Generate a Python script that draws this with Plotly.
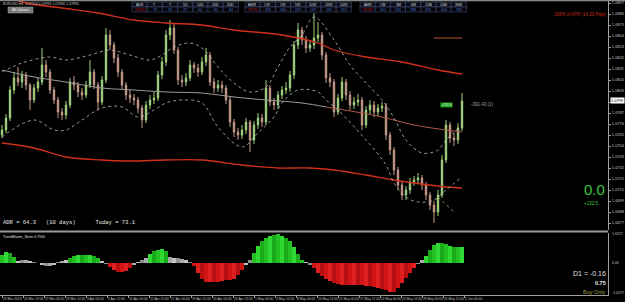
import plotly.graph_objects as go

# ---------------- DATA ----------------
IDX = list(range(116))

OPEN = [1.0765,1.0770,1.0782,1.0810,1.0822,1.0818,1.0825,1.0815,1.0800,1.0812,
        1.0818,1.0835,1.0828,1.0810,1.0800,1.0788,1.0785,1.0795,1.0818,1.0815,
        1.0808,1.0805,1.0815,1.0828,1.0815,1.0798,1.0820,1.0865,1.0855,1.0842,
        1.0828,1.0815,1.0805,1.0802,1.0800,1.0792,1.0780,1.0795,1.0800,1.0802,
        1.0825,1.0838,1.0865,1.0872,1.0850,1.0820,1.0818,1.0822,1.0835,1.0832,
        1.0828,1.0838,1.0845,1.0818,1.0812,1.0815,1.0812,1.0800,1.0778,1.0768,
        1.0765,1.0770,1.0778,1.0760,1.0775,1.0782,1.0778,1.0812,1.0798,1.0795,
        1.0805,1.0810,1.0812,1.0825,1.0855,1.0870,1.0860,1.0852,1.0855,1.0862,
        1.0865,1.0845,1.0822,1.0818,1.0788,1.0802,1.0818,1.0805,1.0795,1.0798,
        1.0800,1.0775,1.0790,1.0795,1.0788,1.0792,1.0794,1.0765,1.0750,1.0730,
        1.0715,1.0705,1.0710,1.0718,1.0720,1.0722,1.0715,1.0705,1.0695,1.0688,
        1.0705,1.0740,1.0775,1.0762,1.0760,1.0772]
CLOSE = [1.0770,1.0782,1.0810,1.0822,1.0818,1.0825,1.0815,1.0800,1.0812,1.0818,
         1.0835,1.0828,1.0810,1.0800,1.0788,1.0785,1.0795,1.0818,1.0815,1.0808,
         1.0805,1.0815,1.0828,1.0815,1.0798,1.0820,1.0865,1.0855,1.0842,1.0828,
         1.0815,1.0805,1.0802,1.0800,1.0792,1.0780,1.0795,1.0800,1.0802,1.0825,
         1.0838,1.0865,1.0872,1.0850,1.0820,1.0818,1.0822,1.0835,1.0832,1.0828,
         1.0838,1.0845,1.0818,1.0812,1.0815,1.0812,1.0800,1.0778,1.0768,1.0765,
         1.0770,1.0778,1.0760,1.0775,1.0782,1.0778,1.0812,1.0798,1.0795,1.0805,
         1.0810,1.0812,1.0825,1.0855,1.0870,1.0860,1.0852,1.0855,1.0862,1.0865,
         1.0845,1.0822,1.0818,1.0788,1.0802,1.0818,1.0805,1.0795,1.0798,1.0800,
         1.0775,1.0790,1.0795,1.0788,1.0792,1.0794,1.0765,1.0750,1.0730,1.0715,
         1.0705,1.0710,1.0718,1.0720,1.0722,1.0715,1.0705,1.0695,1.0688,1.0705,
         1.0740,1.0775,1.0762,1.0760,1.0772,1.0799]
HIGH = [1.0775,1.0786,1.0814,1.0828,1.0833,1.0829,1.0828,1.0817,1.0816,1.0822,
        1.0852,1.0840,1.0831,1.0813,1.0803,1.0792,1.0799,1.0822,1.0824,1.0818,
        1.0812,1.0819,1.0840,1.0831,1.0818,1.0824,1.0872,1.0870,1.0858,1.0846,
        1.0831,1.0818,1.0810,1.0806,1.0803,1.0795,1.0799,1.0805,1.0808,1.0829,
        1.0843,1.0870,1.0880,1.0876,1.0853,1.0825,1.0827,1.0840,1.0838,1.0836,
        1.0843,1.0852,1.0848,1.0822,1.0820,1.0819,1.0815,1.0803,1.0781,1.0772,
        1.0775,1.0782,1.0780,1.0779,1.0787,1.0786,1.0820,1.0815,1.0802,1.0809,
        1.0814,1.0818,1.0829,1.0859,1.0877,1.0873,1.0864,1.0860,1.0887,1.0878,
        1.0868,1.0848,1.0827,1.0821,1.0806,1.0823,1.0821,1.0809,1.0803,1.0806,
        1.0803,1.0794,1.0800,1.0799,1.0796,1.0798,1.0797,1.0768,1.0753,1.0733,
        1.0718,1.0714,1.0722,1.0724,1.0727,1.0725,1.0718,1.0708,1.0699,1.0710,
        1.0745,1.0780,1.0778,1.0767,1.0777,1.0807]
LOW = [1.0762,1.0767,1.0779,1.0806,1.0814,1.0812,1.0810,1.0790,1.0797,1.0808,
       1.0815,1.0823,1.0806,1.0796,1.0782,1.0780,1.0781,1.0792,1.0810,1.0803,
       1.0800,1.0802,1.0812,1.0811,1.0790,1.0795,1.0817,1.0850,1.0837,1.0823,
       1.0810,1.0800,1.0797,1.0795,1.0787,1.0772,1.0777,1.0791,1.0796,1.0799,
       1.0821,1.0834,1.0860,1.0846,1.0815,1.0813,1.0814,1.0819,1.0827,1.0823,
       1.0825,1.0834,1.0814,1.0807,1.0808,1.0807,1.0796,1.0773,1.0763,1.0760,
       1.0761,1.0766,1.0748,1.0756,1.0771,1.0773,1.0775,1.0794,1.0790,1.0791,
       1.0801,1.0806,1.0808,1.0821,1.0851,1.0855,1.0847,1.0848,1.0851,1.0858,
       1.0840,1.0817,1.0813,1.0783,1.0785,1.0799,1.0800,1.0790,1.0791,1.0794,
       1.0770,1.0772,1.0786,1.0783,1.0784,1.0788,1.0760,1.0745,1.0725,1.0710,
       1.0700,1.0700,1.0706,1.0714,1.0716,1.0710,1.0700,1.0690,1.0677,1.0684,
       1.0702,1.0737,1.0757,1.0754,1.0756,1.0769]

# envelope / channel lines (bar index, price)
TOP_RED_X = [0, 6, 15, 24, 33, 41, 50, 58, 70, 79, 83, 91, 100, 109, 115]
TOP_RED_Y = [1.0905, 1.0897, 1.0892, 1.0887, 1.0880, 1.0877, 1.0875, 1.0870, 1.0865,
             1.0857, 1.0850, 1.0843, 1.0838, 1.0830, 1.0826]
BOT_RED_X = [0, 8, 16, 25, 32, 41, 50, 60, 69, 77, 83, 91, 98, 103, 111, 115]
BOT_RED_Y = [1.0757, 1.0752, 1.0743, 1.0740, 1.0739, 1.0740, 1.0740, 1.0735, 1.0732,
             1.0732, 1.0730, 1.0725, 1.0720, 1.0717, 1.0713, 1.0712]
MID_GRAY_X = [0, 8, 16, 25, 33, 41, 50, 58, 66, 75, 81]
MID_GRAY_Y = [1.0830, 1.0823, 1.0818, 1.0812, 1.0810, 1.0808, 1.0807, 1.0803, 1.0800,
              1.0797, 1.0793]
MID_RED_X = [81, 90, 95, 103, 111, 115]
MID_RED_Y = [1.0793, 1.0787, 1.0783, 1.0775, 1.0770, 1.0768]
UP_DOT_X = [0, 5, 12, 16, 22, 27, 32, 37, 40, 43, 47, 50, 54, 58, 62, 66, 69, 72, 75,
            78, 83, 87, 91, 95, 98, 101, 105, 109, 111, 115]
UP_DOT_Y = [1.0828, 1.0837, 1.0843, 1.0840, 1.0845, 1.0850, 1.0845, 1.0840, 1.0845,
            1.0853, 1.0857, 1.0852, 1.0833, 1.0817, 1.0808, 1.0813, 1.0833, 1.0853,
            1.0865, 1.0883, 1.0860, 1.0835, 1.0817, 1.0800, 1.0782, 1.0760, 1.0747,
            1.0750, 1.0760, 1.0775]
LO_DOT_X = [0, 8, 13, 16, 20, 25, 30, 34, 38, 41, 45, 50, 54, 60, 64, 68, 70, 74, 79,
            81, 84, 91, 96, 98, 101, 104, 108, 111, 115]
LO_DOT_Y = [1.0763, 1.0780, 1.0770, 1.0770, 1.0780, 1.0792, 1.0793, 1.0783, 1.0790,
            1.0797, 1.0800, 1.0797, 1.0773, 1.0753, 1.0767, 1.0783, 1.0797, 1.0810,
            1.0808, 1.0800, 1.0790, 1.0760, 1.0735, 1.0717, 1.0703, 1.0698, 1.0700,
            1.0710, 1.0723]
TAIL_DOT_X = [109, 113]
TAIL_DOT_Y = [1.0703, 1.0688]
PREV_HIGH_X = [108, 115]
PREV_HIGH_Y = [1.0862, 1.0862]

# oscillator histogram
HIST = [0.26, 0.36, 0.33, 0.20, 0.07, 0.09, 0.10, 0.07, 0.03, 0.00,
        -0.04, -0.09, -0.10, -0.06, 0.01, 0.06, 0.10, 0.16, 0.23, 0.26,
        0.27, 0.27, 0.26, 0.23, 0.16, 0.07, -0.03, -0.13, -0.23, -0.29,
        -0.30, -0.26, -0.17, -0.07, 0.03, 0.10, 0.16, 0.29, 0.39, 0.43,
        0.44, 0.40, 0.20, 0.17, 0.16, 0.13, 0.10, 0.03, -0.10, -0.33,
        -0.52, -0.60, -0.62, -0.62, -0.60, -0.59, -0.56, -0.55, -0.50, -0.40,
        -0.23, -0.07, 0.10, 0.33, 0.55, 0.72, 0.82, 0.88, 0.91, 0.92,
        0.88, 0.82, 0.70, 0.53, 0.30, 0.10, 0.03, -0.06, -0.16, -0.33,
        -0.43, -0.52, -0.58, -0.64, -0.68, -0.70, -0.71, -0.71, -0.71, -0.72,
        -0.72, -0.74, -0.75, -0.78, -0.80, -0.84, -0.88, -0.94, -0.92, -0.80,
        -0.64, -0.48, -0.33, -0.16, -0.03, 0.10, 0.23, 0.42, 0.58, 0.65,
        0.66, 0.62, 0.55, 0.52, 0.52, 0.52]
HIST_STATE = ("GGGG" "SSSSSSSSSSSSS" "GGGGGGGG" "SS" "RRRRRR" "SSSS" "GGGGG" "SSSSSS"
              "RRRRRRRRRRRRR" "SS" "GGGGGGGGGGGGG" "SS" "RRRRRRRRRRRRRRRRRRRRRRRRRR"
              "SS" "GGGGGGGGGG")

Y_TICKS = [1.0897, 1.0886, 1.0875, 1.0864, 1.0853, 1.0842, 1.0831, 1.0820, 1.0809,
           1.0798, 1.0787, 1.0776, 1.0765, 1.0754, 1.0743, 1.0732, 1.0721, 1.0710,
           1.0699, 1.0688, 1.0677]
TIME_LABELS = ["20 Mar 2023", "22 Mar 12:00", "27 Mar 00:00", "29 Mar 12:00", "3 Apr 00:00",
               "5 Apr 12:00", "10 Apr 00:00", "12 Apr 12:00", "17 Apr 00:00", "19 Apr 12:00",
               "24 Apr 00:00", "26 Apr 12:00", "1 May 00:00", "3 May 12:00", "8 May 00:00",
               "10 May 12:00", "15 May 00:00", "17 May 12:00", "22 May 00:00", "24 May 12:00",
               "29 May 00:00", "31 May 12:00", "5 Jun 00:00"]
TIME_STEP = 5.25  # bars between time labels

TABLES = [
    (["ADR", "T", "Y", "5D", "10D", "20D", "50D"],
     ["26.6%", "73", "59", "72", "64", "61", "64"]),
    (["AWR", "CW", "1W", "5W", "10W", "20W", "50W"],
     ["29.7%", "130", "166", "119", "147", "161", "113"]),
    (["AMR", "CM", "3M", "6M", "12M", "24M", "36M"],
     ["31.4%", "161", "452", "398", "316", "414", "334"]),
]

# ---------------- LAYOUT HELPERS ----------------
W, H = 625, 302
MR, MB = 17, 7
PW, PH = W - MR, H - MB


def px(x):
    return x / PW


def py(y):
    return 1 - y / PH


fig = go.Figure()

fig.add_trace(go.Candlestick(
    x=IDX, open=OPEN, high=HIGH, low=LOW, close=CLOSE,
    increasing=dict(line=dict(color="#9ed27e", width=1), fillcolor="#d8dcb4"),
    decreasing=dict(line=dict(color="#c89a8a", width=1), fillcolor="#bca888"),
    whiskerwidth=0, xaxis="x", yaxis="y", showlegend=False))


def line(xs, ys, color, width=1, dash="solid", shape="spline"):
    fig.add_trace(go.Scatter(x=xs, y=ys, mode="lines", xaxis="x", yaxis="y",
                             line=dict(color=color, width=width, dash=dash, shape=shape),
                             showlegend=False, hoverinfo="skip"))


line(TOP_RED_X, TOP_RED_Y, "#d0301c", 1.3)
line(BOT_RED_X, BOT_RED_Y, "#d0301c", 1.3)
line(MID_GRAY_X, MID_GRAY_Y, "#9a9a9a", 1)
line(MID_RED_X, MID_RED_Y, "#b05a48", 1)
line(UP_DOT_X, UP_DOT_Y, "#bdbdbd", 0.8, "dot")
line(LO_DOT_X, LO_DOT_Y, "#bdbdbd", 0.8, "dot")
line(TAIL_DOT_X, TAIL_DOT_Y, "#6a9a50", 1, "dot", "linear")
line(PREV_HIGH_X, PREV_HIGH_Y, "#b05a28", 1, "solid", "linear")

palette = {
    "G": ["#22c022", "#32d832", "#1aaa1a"],
    "R": ["#d01414", "#e02020", "#b81010"],
    "S": ["#a8a8a8", "#c4c4c4", "#909090"],
}
colors = [palette[s][i % 3] for i, s in enumerate(HIST_STATE)]
fig.add_trace(go.Bar(x=IDX, y=HIST, marker=dict(color=colors, line=dict(width=0)),
                     width=1.0, xaxis="x2", yaxis="y2", showlegend=False))

XR = [-0.5, PW / 4 - 0.5]
main_dom = [1 - 230 / PH, 1]
low_dom = [0, (PH - 233) / PH]

fig.update_layout(
    width=W, height=H, margin=dict(l=0, r=MR, t=0, b=MB),
    paper_bgcolor="black", plot_bgcolor="black", bargap=0, boxgap=0.5,
    xaxis=dict(domain=[0, 1], anchor="y", range=XR, showticklabels=False, showgrid=False,
               zeroline=False, rangeslider=dict(visible=False), showline=False, ticks=""),
    yaxis=dict(domain=main_dom, anchor="x", range=[1.0670, 1.0900], side="right",
               tickvals=Y_TICKS, ticktext=["%.4f" % v for v in Y_TICKS],
               tickfont=dict(size=4, color="#c0c0c0", family="Liberation Sans"),
               ticks="outside", ticklen=2, tickcolor="#a0a0a0", showgrid=False,
               zeroline=False, showline=True, linecolor="#a0a0a0", linewidth=1),
    xaxis2=dict(domain=[0, 1], anchor="y2", range=XR, showgrid=False, zeroline=False,
                tickvals=[k * TIME_STEP for k in range(len(TIME_LABELS))],
                ticktext=TIME_LABELS, ticklabelposition="outside right", tickangle=0,
                tickfont=dict(size=3.3, color="#c0c0c0", family="Liberation Sans"),
                ticks="outside", ticklen=2, tickcolor="#a0a0a0",
                showline=True, linecolor="#a0a0a0", linewidth=1),
    yaxis2=dict(domain=low_dom, anchor="x2", range=[-32 / 31, 30 / 31], side="right",
                showticklabels=False, showgrid=False, zeroline=False, ticks="",
                showline=True, linecolor="#a0a0a0", linewidth=1),
)

shapes = []
annotations = []


def ann(text, x, y, size, color, xanchor="left", yanchor="middle",
        family="Liberation Sans", bg=None):
    d = dict(text=text, x=px(x), y=py(y), xref="paper", yref="paper", showarrow=False,
             font=dict(size=size, color=color, family=family), xanchor=xanchor,
             yanchor=yanchor, borderpad=0)
    if bg:
        d["bgcolor"] = bg
    annotations.append(d)


def rect(x0, y0, x1, y1, fill=None, lc="#606060", lw=0.5):
    shapes.append(dict(type="rect", xref="paper", yref="paper", x0=px(x0), x1=px(x1),
                       y0=py(y1), y1=py(y0), fillcolor=fill or "rgba(0,0,0,0)",
                       line=dict(color=lc, width=lw), layer="above"))


def hline(x0, x1, y, color, width):
    shapes.append(dict(type="line", xref="paper", yref="paper", x0=px(x0), x1=px(x1),
                       y0=py(y), y1=py(y), line=dict(color=color, width=width)))


# frame lines
hline(0, W, 0.5, "#8a8a8a", 1.5)
hline(0, PW, 231.5, "#9a9a9a", 2)

# top-left info
ann("EURUSD,H4  1.07720 1.07990 1.07690 1.07990", 2, 3.5, 3.5, "#c8c8c8")
rect(8, 7, 33, 13, fill="#7a7a7a", lc="#a0a0a0")
ann("All Options", 20.5, 10, 3.5, "#f0f0f0", xanchor="center")

# range tables
for (heads, vals), x0 in zip(TABLES, [132, 245, 360]):
    cw = 15.2
    for j, (hd, vl) in enumerate(zip(heads, vals)):
        xa = x0 + j * cw
        rect(xa, 2, xa + cw, 7, fill="#0c0c14", lc="#4a5a8a")
        rect(xa, 7, xa + cw, 12, fill="#05050a", lc="#4a5a8a")
        ann(hd, xa + cw / 2, 4.6, 3.5, "#d8d8d8", xanchor="center")
        ann(vl, xa + cw / 2, 9.6, 3.5, "#d02020" if j == 0 else "#4a7ad8",
            xanchor="center")

ann("100% of ATR (14,20 Pips)", 607, 14, 4.5, "#c82818", xanchor="right")
ann("+132.0", 446, 105, 3.5, "#e8ffe8", xanchor="center", bg="#18a018")
ann("-391.43 (1)", 470, 104, 4.5, "#a0a0a0")
ann("1.0799", 610, 101, 4, "#000000", bg="#ffffff")
ann("0.0", 594, 189, 15, "#3cc83c", xanchor="center")
ann("+132.5", 591, 203, 4.5, "#3cc83c", xanchor="center")
ann("ADR = 64.3   (10 days)      Today = 73.1", 2, 222, 5.5, "#e8e8e8",
    family="Liberation Mono")

# lower panel
ann("TrendMaster_Norm 0.7500", 2, 237, 3.5, "#e0e0e0")
ann("1.0227", 611, 234, 3.5, "#c0c0c0")
ann("0.00", 611, 263, 3.5, "#c0c0c0")
ann("-1.0227", 611, 293, 3.5, "#c0c0c0")
ann("D1 = -0.16", 607, 273, 7, "#e0e0e0", xanchor="right")
ann("<b>0.75</b>", 607, 283, 5.5, "#f0f0f0", xanchor="right")
ann("Buy Only", 607, 292, 5.5, "#9aa040", xanchor="right")

fig.update_layout(shapes=shapes, annotations=annotations)
fig.write_html("out.html")
